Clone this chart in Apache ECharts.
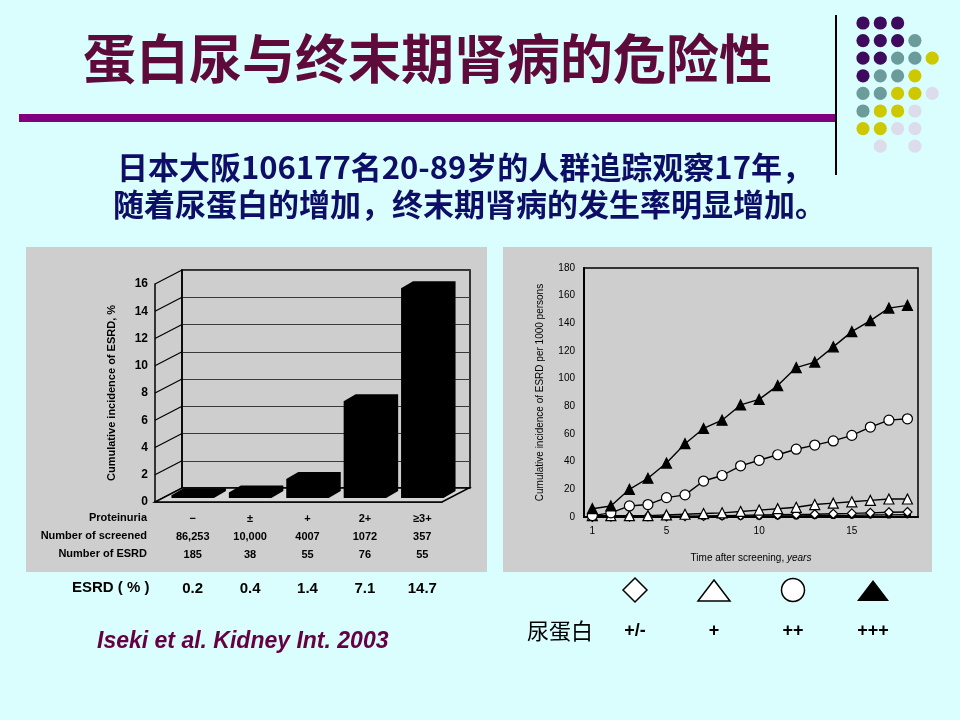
<!DOCTYPE html>
<html>
<head>
<meta charset="utf-8">
<script src="https://cdn.jsdelivr.net/npm/echarts@6.0.0/dist/echarts.min.js"></script>
<style>
  html, body { margin: 0; padding: 0; background: #dafefe; }
  #main { width: 960px; height: 720px; }
</style>
</head>
<body>
<div id="main"></div>
<script>
// 左图：蛋白尿分级与ESRD累积发生率
var proteinuria = ['\u2212', '\u00b1', '+', '2+', '\u22653+'];
var screened = ['86,253', '10,000', '4007', '1072', '357'];
var esrdCount = ['185', '38', '55', '76', '55'];
var barIncidence = [0.2, 0.4, 1.4, 7.1, 15.4];
var esrdPct = ['0.2', '0.4', '1.4', '7.1', '14.7'];

// 右图：随访年份与每1000人累积ESRD
var years = [1, 2, 3, 4, 5, 6, 7, 8, 9, 10, 11, 12, 13, 14, 15, 16, 17, 18];
var yearLabels = [1, 5, 10, 15];
var negative = [0, 0, 0, 0, 0.2, 0.3, 0.3, 0.4, 0.5, 0.6, 0.7, 0.8, 1, 1.1, 1.2, 1.4, 1.5, 1.6];
var plusMinus = [0, 0.2, 0.3, 0.4, 0.5, 0.6, 0.8, 1, 1.2, 1.4, 1.6, 1.8, 2, 2.3, 2.6, 3, 3.4, 3.6];
var plus1 = [1, 1, 1, 1, 1.5, 2, 2.5, 3, 4, 5, 6, 7, 9, 10, 11, 12, 13, 13];
var plus2 = [1, 3, 8, 9, 14, 16, 26, 30, 37, 41, 45, 49, 52, 55, 59, 65, 70, 71];
var plus3 = [6, 8, 20, 28, 39, 53, 64, 70, 81, 85, 95, 108, 112, 123, 134, 142, 151, 153];

var legendNames = ['+/-', '+', '++', '+++'];

// 伪3D的深度偏移
var DX = 27, DY = -14;
var BAR_W = 0.74, BAR_OX = 9, BAR_OY = -4, BAR_DX = 12, BAR_DY = -7;

var chart = echarts.init(document.getElementById('main'));

function pairs(vals) {
  return years.map(function (y, i) { return [y, vals[i]]; });
}

/* 右上角装饰圆点 */
var dotRows = ['PPP', 'PPPT', 'PPTTY', 'PTTY', 'TTYYL', 'TYYL', 'YYLL', ' L L'];
var dotColors = { P: '#3e0a5e', T: '#6b9b9b', Y: '#cdc800', L: '#dcdcec' };
var dots = [];
dotRows.forEach(function (row, r) {
  row.split('').forEach(function (c, k) {
    if (c === ' ') return;
    dots.push({
      type: 'circle',
      shape: { cx: 863 + k * 17.3, cy: 23 + r * 17.6, r: 6.6 },
      style: { fill: dotColors[c] }
    });
  });
});

var cjk = '"Noto Sans CJK SC", sans-serif';
var lat = '"Liberation Sans", Arial, sans-serif';

var graphics = [
  // 灰色面板
  { type: 'rect', z: -10, shape: { x: 26, y: 247, width: 461, height: 325 }, style: { fill: '#cecece' } },
  { type: 'rect', z: -10, shape: { x: 503, y: 247, width: 429, height: 325 }, style: { fill: '#cecece' } },
  // 装饰线
  { type: 'rect', shape: { x: 19, y: 114, width: 816, height: 8 }, style: { fill: '#800080' } },
  { type: 'rect', shape: { x: 835, y: 15, width: 2, height: 160 }, style: { fill: '#000' } },
  // 标题
  { type: 'text', x: 83, y: 59, style: { text: '蛋白尿与终末期肾病的危险性', font: 'bold 53px ' + cjk, fill: '#5e0b3b', verticalAlign: 'middle' } },
  { type: 'text', x: 117, y: 167, style: { text: '日本大阪106177名20-89岁的人群追踪观察17年，', font: 'bold 31px ' + cjk, fill: '#0e0e66', verticalAlign: 'middle' } },
  { type: 'text', x: 113, y: 204, style: { text: '随着尿蛋白的增加，终末期肾病的发生率明显增加。', font: 'bold 31px ' + cjk, fill: '#0e0e66', verticalAlign: 'middle' } },
  // 左图行标题
  { type: 'text', x: 147, y: 518, style: { text: 'Proteinuria', font: 'bold 11px ' + lat, fill: '#000', align: 'right', verticalAlign: 'middle' } },
  { type: 'text', x: 147, y: 536, style: { text: 'Number of screened', font: 'bold 11px ' + lat, fill: '#000', align: 'right', verticalAlign: 'middle' } },
  { type: 'text', x: 147, y: 554, style: { text: 'Number of ESRD', font: 'bold 11px ' + lat, fill: '#000', align: 'right', verticalAlign: 'middle' } },
  { type: 'text', x: 72, y: 588, style: { text: 'ESRD ( % )', font: 'bold 15px ' + lat, fill: '#000', verticalAlign: 'middle' } },
  { type: 'text', x: 97, y: 642, style: { text: 'Iseki et al. Kidney Int. 2003', font: 'italic bold 23px ' + lat, fill: '#660044', verticalAlign: 'middle' } },
  // 右图图例
  { type: 'polygon', shape: { points: [[635, 578], [647, 590], [635, 602], [623, 590]] }, style: { fill: '#fff', stroke: '#000', lineWidth: 1.5 } },
  { type: 'polygon', shape: { points: [[714, 580], [730, 601], [698, 601]] }, style: { fill: '#fff', stroke: '#000', lineWidth: 1.5 } },
  { type: 'circle', shape: { cx: 793, cy: 590, r: 11.5 }, style: { fill: '#fff', stroke: '#000', lineWidth: 1.5 } },
  { type: 'polygon', shape: { points: [[873, 580], [889, 601], [857, 601]] }, style: { fill: '#000' } },
  { type: 'text', x: 527, y: 631, style: { text: '尿蛋白', font: '22px ' + cjk, fill: '#000', verticalAlign: 'middle' } }
].concat(dots);

[635, 714, 793, 873].forEach(function (x, i) {
  graphics.push({ type: 'text', x: x, y: 631, style: { text: legendNames[i], font: 'bold 18px ' + lat, fill: '#000', align: 'center', verticalAlign: 'middle' } });
});

function lineSeries(name, vals, symbol, size, fill, z) {
  return {
    name: name,
    type: 'line',
    xAxisIndex: 3,
    yAxisIndex: 2,
    data: pairs(vals),
    symbol: symbol,
    symbolSize: size,
    z: z,
    lineStyle: { color: '#000', width: 1.4 },
    itemStyle: { color: fill, borderColor: '#000', borderWidth: 1.2 },
    animation: false
  };
}

var option = {
  backgroundColor: '#dafefe',
  animation: false,
  textStyle: { fontFamily: lat },
  graphic: { elements: graphics },
  grid: [
    { left: 155, top: 284, width: 287, height: 218 },
    { left: 182, top: 270, width: 288, height: 218, show: true, borderColor: '#000', borderWidth: 1.5, backgroundColor: 'transparent' },
    { left: 584, top: 268, width: 334, height: 249, show: true, borderColor: '#000', borderWidth: 1.5, backgroundColor: 'transparent' }
  ],
  xAxis: [
    {
      gridIndex: 0,
      type: 'category',
      position: 'bottom',
      data: proteinuria,
      axisLine: { lineStyle: { color: '#000', width: 1.5 } },
      axisTick: { show: false },
      axisLabel: {
        margin: 8,
        padding: [0, 0, 0, 18],
        color: '#000',
        fontSize: 11,
        fontWeight: 'bold',
        lineHeight: 18,
        formatter: function (v, i) {
          return v + '\n' + screened[i] + '\n' + esrdCount[i];
        }
      }
    },
    {
      gridIndex: 0,
      type: 'category',
      position: 'bottom',
      data: esrdPct,
      axisLine: { show: false },
      axisTick: { show: false },
      axisLabel: { margin: 79, padding: [0, 0, 0, 18], color: '#000', fontSize: 15, fontWeight: 'bold' }
    },
    { gridIndex: 1, type: 'category', data: proteinuria, show: false },
    {
      gridIndex: 2,
      type: 'value',
      min: 0.55,
      max: 18.57,
      axisLine: { lineStyle: { color: '#000', width: 2 } },
      axisTick: { show: false },
      splitLine: { show: false },
      axisLabel: { customValues: yearLabels, color: '#000', fontSize: 10, margin: 9 },
      name: 'Time after screening, {i|years}',
      nameLocation: 'middle',
      nameGap: 36,
      nameTextStyle: { color: '#000', fontSize: 10, rich: { i: { fontStyle: 'italic', fontSize: 10, color: '#000' } } }
    }
  ],
  yAxis: [
    {
      gridIndex: 0,
      type: 'value',
      min: 0,
      max: 16,
      interval: 2,
      axisLine: { show: true, lineStyle: { color: '#000', width: 1.5 } },
      axisTick: { show: false },
      splitLine: { show: false },
      axisLabel: { color: '#000', fontSize: 12, fontWeight: 'bold', margin: 7 },
      name: 'Cumulative incidence of ESRD, %',
      nameLocation: 'middle',
      nameGap: 38,
      nameTextStyle: { color: '#000', fontSize: 11, fontWeight: 'bold' }
    },
    {
      gridIndex: 1,
      type: 'value',
      min: 0,
      max: 16,
      interval: 2,
      axisLine: { show: true, lineStyle: { color: '#000', width: 1.5 } },
      axisTick: { show: false },
      axisLabel: { show: false },
      splitLine: { lineStyle: { color: '#3a3a3a', width: 1 } }
    },
    {
      gridIndex: 2,
      type: 'value',
      min: 0,
      max: 180,
      interval: 20,
      axisLine: { show: true, lineStyle: { color: '#000', width: 2 } },
      axisTick: { show: false },
      splitLine: { show: false },
      axisLabel: { color: '#000', fontSize: 10, margin: 9 },
      name: 'Cumulative incidence of ESRD per 1000 persons',
      nameLocation: 'middle',
      nameGap: 39,
      nameTextStyle: { color: '#000', fontSize: 10 }
    }
  ],
  series: [
    /* 左侧墙的斜线 */
    {
      type: 'custom',
      xAxisIndex: 0,
      yAxisIndex: 0,
      z: 1,
      silent: true,
      data: [0, 2, 4, 6, 8, 10, 12, 14, 16].map(function (v) { return [0, v]; }),
      renderItem: function (params, api) {
        var y = api.coord([0, api.value(1)])[1];
        var x0 = params.coordSys.x;
        return { type: 'line', shape: { x1: x0, y1: y, x2: x0 + DX, y2: y + DY }, style: { stroke: '#000', lineWidth: 1.2 } };
      }
    },
    /* 底板 */
    {
      type: 'custom',
      xAxisIndex: 0,
      yAxisIndex: 0,
      z: 1,
      silent: true,
      data: [[0, 0]],
      renderItem: function (params, api) {
        var cs = params.coordSys;
        var yb = api.coord([0, 0])[1];
        var x0 = cs.x, x1 = cs.x + cs.width;
        return {
          type: 'polygon',
          shape: { points: [[x0, yb], [x1, yb], [x1 + DX, yb + DY], [x0 + DX, yb + DY]] },
          style: { fill: '#d6d6d6', stroke: '#000', lineWidth: 1.5 }
        };
      }
    },
    /* 立体柱 */
    {
      type: 'custom',
      xAxisIndex: 0,
      yAxisIndex: 0,
      z: 3,
      data: barIncidence.map(function (v, i) { return [i, v]; }),
      encode: { x: 0, y: 1 },
      renderItem: function (params, api) {
        var i = api.value(0), v = api.value(1);
        var base = api.coord([i, 0]), top = api.coord([i, v]);
        var w = api.size([1, 0])[0] * BAR_W;
        var l = base[0] - w / 2 + BAR_OX, r = l + w;
        var b = base[1] + BAR_OY, t = top[1] + BAR_OY;
        return {
          type: 'polygon',
          shape: { points: [[l, b], [l, t], [l + BAR_DX, t + BAR_DY], [r + BAR_DX, t + BAR_DY], [r + BAR_DX, b + BAR_DY], [r, b]] },
          style: { fill: '#000' }
        };
      }
    },
    lineSeries('-', negative, 'circle', 6, '#000', 4),
    lineSeries('+/-', plusMinus, 'diamond', 9, '#fff', 5),
    lineSeries('+', plus1, 'triangle', 10, '#fff', 6),
    lineSeries('++', plus2, 'circle', 10, '#fff', 7),
    lineSeries('+++', plus3, 'triangle', 10, '#000', 8)
  ]
};

chart.setOption(option);
</script>
</body>
</html>
